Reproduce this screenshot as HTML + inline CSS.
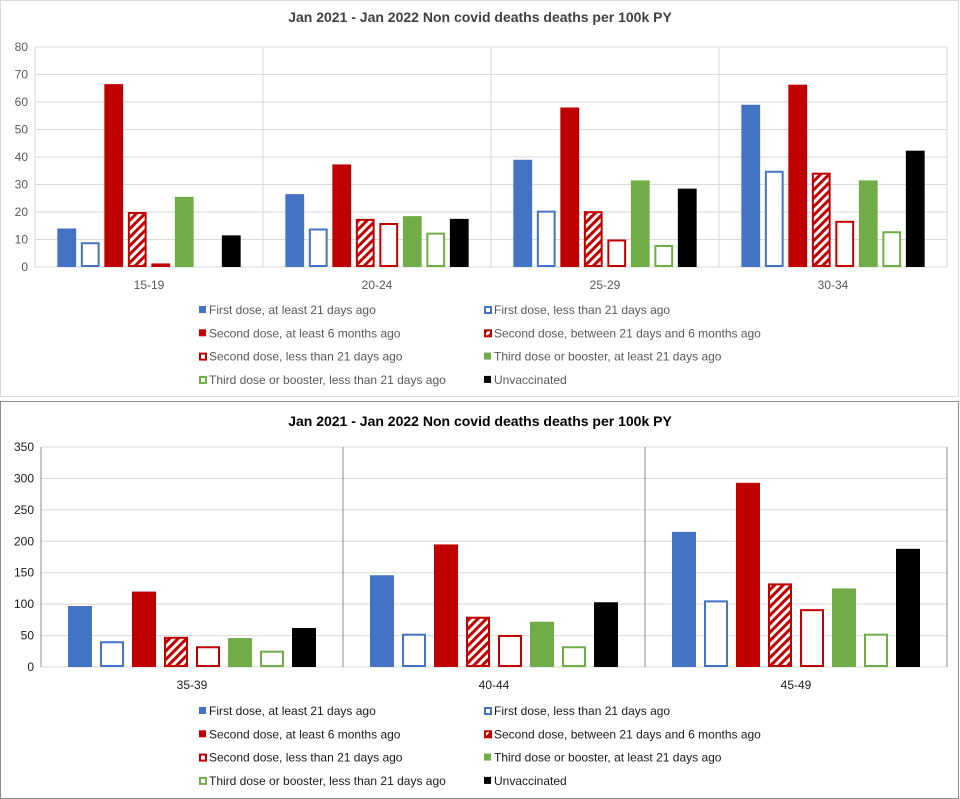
<!DOCTYPE html>
<html><head><meta charset="utf-8"><style>
body{margin:0;background:#fff;width:960px;height:799px;overflow:hidden}
svg{display:block;font-family:"Liberation Sans",Arial,sans-serif}
</style></head><body>
<svg id="s" width="960" height="799">
<defs>
<pattern id="hatch" patternUnits="userSpaceOnUse" width="6" height="6" patternTransform="rotate(45)">
<rect width="6" height="6" fill="#fff"/><rect width="3" height="6" fill="#c00000"/>
</pattern>
</defs>
<rect x="0.5" y="0.5" width="958" height="396" fill="#fff" stroke="#d9d9d9"/>
<rect x="0.5" y="401.5" width="958" height="397" fill="#fff" stroke="#8c8c8c"/>
</svg>
<script>
const seriesNames=["First dose, at least 21 days ago","First dose, less than 21 days ago","Second dose, at least 6 months ago","Second dose, between 21 days and 6 months ago","Second dose, less than 21 days ago","Third dose or booster, at least 21 days ago","Third dose or booster, less than 21 days ago","Unvaccinated"];
const topCategories=["15-19","20-24","25-29","30-34"];
const topValues=[
[14,9,66.5,20,1.3,25.5,0,11.5],
[26.5,14,37.3,17.5,16,18.5,12.5,17.5],
[39,20.5,58,20.3,10,31.5,8,28.5],
[59,35,66.3,34.3,16.8,31.5,13,42.3]];
const topTicks=[0,10,20,30,40,50,60,70,80];
const botCategories=["35-39","40-44","45-49"];
const botValues=[
[97,41,120,48,33,46,26,62],
[146,53,195,80,51,72,33,103],
[215,106,293,133,92,125,53,188]];
const botTicks=[0,50,100,150,200,250,300,350];
const title="Jan 2021 - Jan 2022 Non covid deaths deaths per 100k PY";

const styles=[
{fill:"#4472c4",stroke:"#4472c4"},{fill:"#fff",stroke:"#4472c4"},
{fill:"#c00000",stroke:"#c00000"},{fill:"url(#hatch)",stroke:"#c00000"},
{fill:"#fff",stroke:"#c00000"},{fill:"#70ad47",stroke:"#70ad47"},
{fill:"#fff",stroke:"#70ad47"},{fill:"#000",stroke:"#000"}];
const svg=document.getElementById('s');
const NS="http://www.w3.org/2000/svg";
function mk(t,a,txt){const e=document.createElementNS(NS,t);for(const k in a)e.setAttribute(k,a[k]);if(txt!=null)e.textContent=txt;svg.appendChild(e);return e;}

function chart(o){
  const y=v=>o.y0-(v/o.max)*(o.y0-o.y1);
  const gw=(o.x1-o.x0)/o.cats.length;
  let t=mk('text',{x:480,y:o.titleY,'text-anchor':'middle','font-size':14,'font-weight':'bold',fill:o.titleC},title);
  
  
  o.ticks.forEach(v=>{
    let g=mk('line',{x1:o.x0,x2:o.x1,y1:y(v),y2:y(v),stroke:'#d9d9d9'});
    
    
    let l=mk('text',{x:o.x0-7,y:y(v)+4,'text-anchor':'end','font-size':12,fill:o.tc},v);
    
    
  });
  for(let i=0;i<=o.cats.length;i++){
    let d=mk('line',{x1:o.x0+i*gw,x2:o.x0+i*gw,y1:o.y1,y2:o.y0,stroke:(i==0||i==o.cats.length)?o.edge:o.div});
    
    
  }
  const pitch=(gw-2*o.pad)/8, bw=pitch*o.bf;
  o.cats.forEach((c,i)=>{
    const gx=o.x0+i*gw;
    o.vals[i].forEach((v,j)=>{
      if(v<=0)return;
      const bx=gx+o.pad+j*pitch+(pitch-bw)/2;
      const hollow=styles[j].fill!==styles[j].stroke;
      const sw=hollow?2:1;
      let r=mk('rect',{x:bx+sw/2,y:y(v)+sw/2,width:bw-sw,height:Math.max(0,y(0)-y(v)-sw),fill:styles[j].fill,stroke:styles[j].stroke,'stroke-width':sw});
      
      
    });
    let cl=mk('text',{x:gx+gw/2,y:o.y0+22,'text-anchor':'middle','font-size':12,fill:o.tc},c);
    
    
  });
  seriesNames.forEach((n,j)=>{
    const col=j%2, row=Math.floor(j/2);
    const mx=col?484:199, my=o.legY+row*23.3;
    const hollow=styles[j].fill!==styles[j].stroke;
    let m=mk('rect',{x:mx+(hollow?1:0),y:my-5+(hollow?1:0),width:hollow?6:7,height:hollow?6:7,fill:styles[j].fill,stroke:styles[j].stroke,'stroke-width':hollow?2:0});
    
    
    let lt=mk('text',{x:mx+10,y:my+3,'font-size':12,fill:o.tc},n);
    
    
  });
}
chart({id:'top',cats:topCategories,vals:topValues,ticks:topTicks,max:80,x0:35,x1:947,y0:267,y1:47,pad:20,bf:0.8,titleY:22,legY:311,tc:'#595959',titleC:'#404040',div:'#d9d9d9',edge:'#d9d9d9'});
chart({id:'bottom',cats:botCategories,vals:botValues,ticks:botTicks,max:350,x0:41,x1:947,y0:667,y1:447,pad:23,bf:0.75,titleY:426,legY:712,tc:'#1a1a1a',titleC:'#000',div:'#8c8c8c',edge:'#8c8c8c'});
</script>
</body></html>
